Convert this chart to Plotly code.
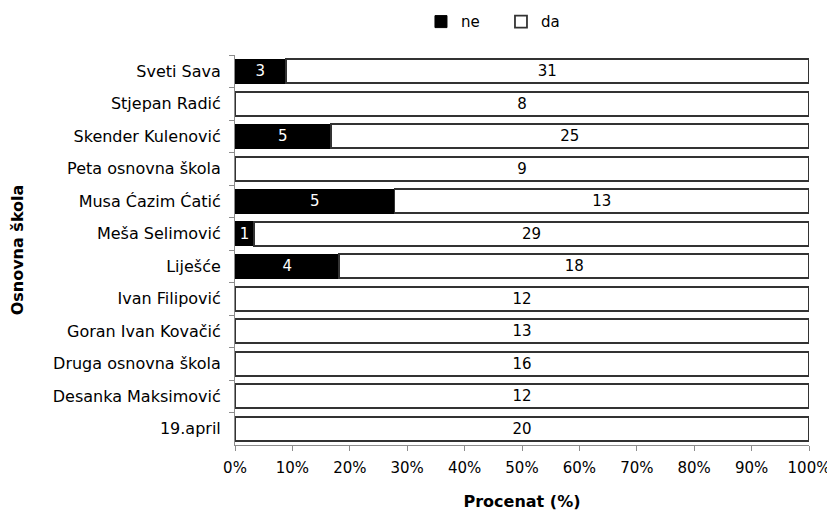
import plotly.graph_objects as go

schools = ["Sveti Sava", "Stjepan Radić", "Skender Kulenović", "Peta osnovna škola",
           "Musa Ćazim Ćatić", "Meša Selimović", "Liješće", "Ivan Filipović",
           "Goran Ivan Kovačić", "Druga osnovna škola", "Desanka Maksimović", "19.april"]
ne_counts = [3, 0, 5, 0, 5, 1, 4, 0, 0, 0, 0, 0]
da_counts = [31, 8, 25, 9, 13, 29, 18, 12, 13, 16, 12, 20]
x_ticks = [0, 10, 20, 30, 40, 50, 60, 70, 80, 90, 100]
x_labels = [f"{t}%" for t in x_ticks]

FONT = "DejaVu Sans, Liberation Sans, Arial, sans-serif"

fig = go.Figure()
fig.add_trace(go.Bar(
    y=schools, x=ne_counts, name="ne", orientation="h",
    marker=dict(color="black", line=dict(color="black", width=1)),
    text=[str(v) if v else "" for v in ne_counts],
    textposition="inside", insidetextanchor="middle", textangle=0,
    textfont=dict(color="white", size=15, family=FONT),
))
fig.add_trace(go.Bar(
    y=schools, x=da_counts, name="da", orientation="h",
    marker=dict(color="white", line=dict(color="#333333", width=1.8)),
    text=[str(v) if v else "" for v in da_counts],
    textposition="inside", insidetextanchor="middle", textangle=0,
    textfont=dict(color="black", size=15, family=FONT),
))

# the page body adds an 8px offset, so margins are compensated
fig.update_layout(
    width=835, height=514,
    barmode="stack", barnorm="percent", bargap=0.26,
    plot_bgcolor="white", paper_bgcolor="white",
    margin=dict(l=227, r=34, t=47, b=77, autoexpand=False),
    font=dict(family=FONT, size=15, color="black"),
    uniformtext=dict(mode="show", minsize=15),
    legend=dict(orientation="h", x=0.324, xanchor="left", y=1.085, yanchor="middle",
                font=dict(size=15), itemwidth=30, entrywidth=35, entrywidthmode="pixels",
                traceorder="normal"),
    showlegend=True,
)
fig.update_xaxes(
    range=[0, 100], tickvals=x_ticks, ticktext=x_labels,
    showgrid=False, zeroline=False, showline=True, linecolor="#8c8c8c", linewidth=1,
    ticks="outside", ticklen=5, tickcolor="#8c8c8c",
    tickfont=dict(size=15), ticklabelstandoff=4, automargin=False,
    title=dict(text="<b>Procenat (%)</b>", font=dict(size=16), standoff=19),
)
fig.update_yaxes(
    categoryorder="array", categoryarray=schools, autorange="reversed",
    showgrid=False, showline=True, linecolor="#8c8c8c", linewidth=1,
    ticks="outside", ticklen=5, tickcolor="#8c8c8c", tickson="boundaries",
    tickfont=dict(size=16), ticklabelstandoff=10, automargin=False,
    title=dict(text="<b>Osnovna škola</b>", font=dict(size=16), standoff=27),
)

fig.write_html("out.html")
